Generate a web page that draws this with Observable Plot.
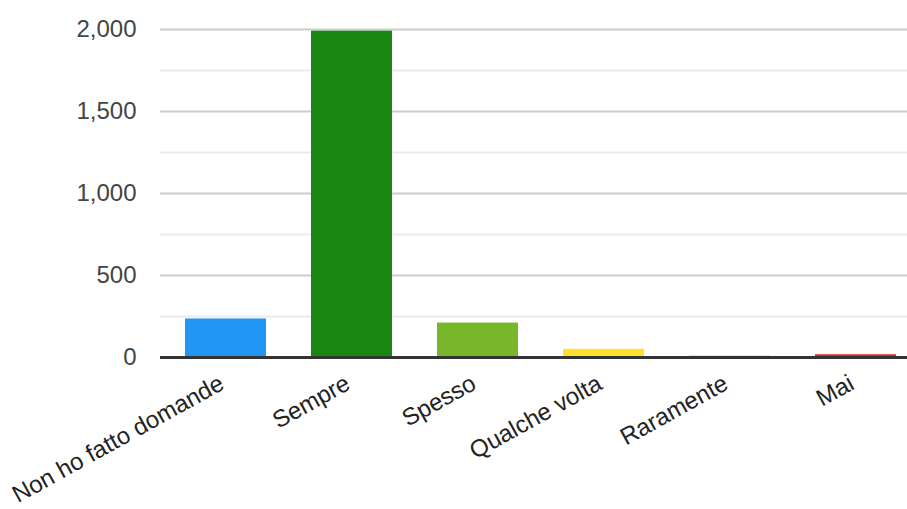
<!DOCTYPE html>
<html>
<head>
<meta charset="utf-8">
<script src="https://cdn.jsdelivr.net/npm/d3@7"></script>
<script src="https://cdn.jsdelivr.net/npm/@observablehq/plot@0.6"></script>
<style>
  html, body { margin: 0; padding: 0; background: #fff; }
</style>
</head>
<body>
<div id="chart"></div>
<script>
const categories = ["Non ho fatto domande", "Sempre", "Spesso", "Qualche volta", "Raramente", "Mai"];
const values = [235, 1990, 210, 50, 8, 17];
const barColors = ["#2196f3", "#1b8713", "#78b72a", "#ffe033", "#f5a442", "#d32f2f"];
const majorTicks = [0, 500, 1000, 1500, 2000];
const minorTicks = [250, 750, 1250, 1750];

const data = categories.map((c, i) => ({category: c, value: values[i]}));

const chart = Plot.plot({
  width: 907,
  height: 509,
  marginLeft: 160,
  marginRight: 0,
  marginTop: 29,
  marginBottom: 152,
  style: {fontFamily: "'Liberation Sans', Arial, sans-serif", background: "#fff", color: "#444"},
  x: {domain: categories, range: [162, 918], paddingInner: 0.36, paddingOuter: 0.18, label: null},
  y: {domain: [0, 2000], label: null},
  color: {domain: categories, range: barColors},
  marks: [
    Plot.ruleY(minorTicks, {stroke: "#ebebeb", strokeWidth: 2}),
    Plot.ruleY(majorTicks.filter(d => d > 0), {stroke: "#cccccc", strokeWidth: 2}),
    Plot.barY(data, {x: "category", y: "value", fill: "category"}),
    Plot.ruleY([0], {stroke: "#333333", strokeWidth: 3}),
    Plot.axisY({ticks: majorTicks, tickSize: 0, tickPadding: 24, fontSize: 24, tickFormat: d3.format(","), label: null, fill: "#444"}),
    Plot.axisX({tickSize: 0, tickRotate: -29, tickPadding: 24, dx: -4, fontSize: 24, label: null, fill: "#222"})
  ]
});
document.getElementById("chart").append(chart);
</script>
</body>
</html>
